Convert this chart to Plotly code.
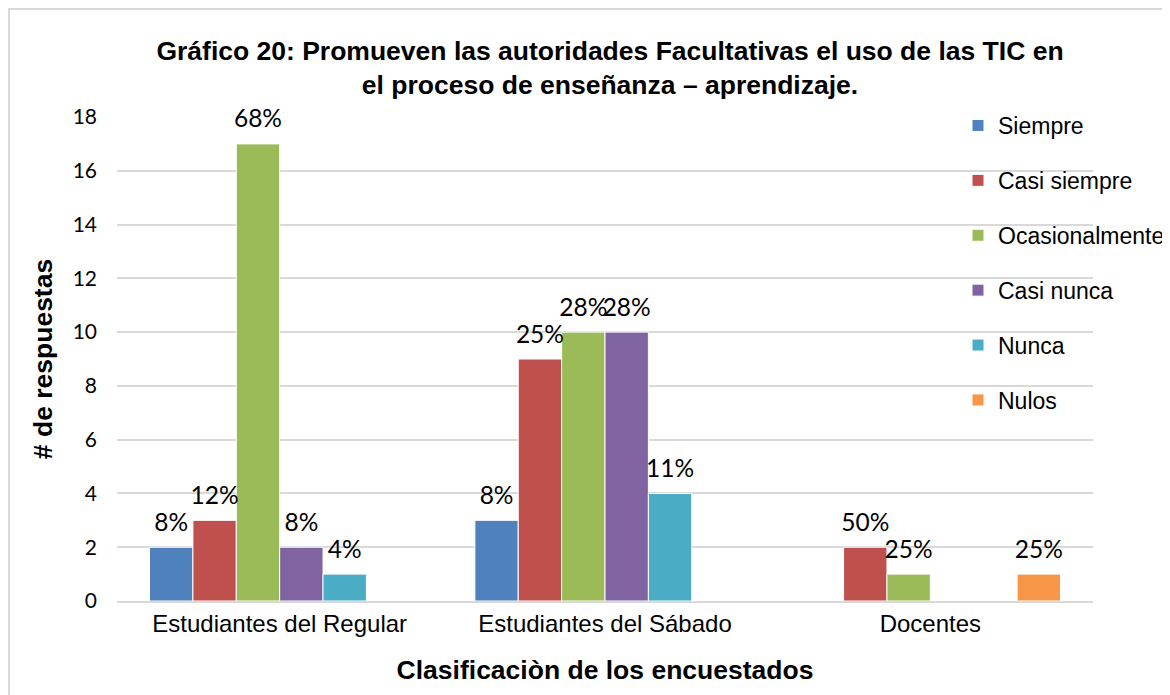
import plotly.graph_objects as go

categories = ["Estudiantes del Regular", "Estudiantes del Sábado", "Docentes"]
series_names = ["Siempre", "Casi siempre", "Ocasionalmente", "Casi nunca", "Nunca", "Nulos"]
siempre = [2, 3, 0]
casi_siempre = [3, 9, 2]
ocasionalmente = [17, 10, 1]
casi_nunca = [2, 10, 0]
nunca = [1, 4, 0]
nulos = [0, 0, 1]
lbl_siempre = ["8%", "8%", ""]
lbl_casi_siempre = ["12%", "25%", "50%"]
lbl_ocasionalmente = ["68%", "28%", "25%"]
lbl_casi_nunca = ["8%", "28%", ""]
lbl_nunca = ["4%", "11%", ""]
lbl_nulos = ["", "", "25%"]
colors = ["#4F81BD", "#C0504D", "#9BBB59", "#8064A2", "#4BACC6", "#F79646"]
y_ticks = [0, 2, 4, 6, 8, 10, 12, 14, 16, 18]

values = [siempre, casi_siempre, ocasionalmente, casi_nunca, nunca, nulos]
labels = [lbl_siempre, lbl_casi_siempre, lbl_ocasionalmente, lbl_casi_nunca, lbl_nunca, lbl_nulos]

fig = go.Figure()
for i, (name, vals, lbls, col) in enumerate(zip(series_names, values, labels, colors)):
    fig.add_trace(go.Bar(
        x=categories, y=vals, name=name, legendgroup=f"g{i}",
        offsetgroup=f"o{i}",
        marker=dict(color=col, line=dict(color="#FFFFFF", width=1)),
    ))
for i, (vals, lbls) in enumerate(zip(values, labels)):
    fig.add_trace(go.Scatter(
        x=categories, y=vals, text=lbls, mode="markers+text",
        offsetgroup=f"o{i}", showlegend=False, hoverinfo="skip",
        textposition="top center", cliponaxis=False,
        marker=dict(size=15, opacity=0),
        textfont=dict(family="Lato", size=24.5, color="#000000"),
    ))

L, T = 109, 109
W, H = 1170, 695
pw, ph = 976, 484
R, B = W - L - pw, H - T - ph

fig.update_layout(
    width=W, height=H,
    margin=dict(l=L, r=R, t=T, b=B, autoexpand=False),
    paper_bgcolor="white", plot_bgcolor="white",
    barmode="group", bargap=0.2, bargroupgap=0,
    scattermode="group", scattergap=0.2,
    title=dict(
        text="<b>Gráfico 20: Promueven las autoridades Facultativas el uso de las TIC en<br>el proceso de enseñanza – aprendizaje.</b>",
        x=602 / W, xanchor="center", y=1 - 52 / H, yanchor="top",
        font=dict(family="Liberation Sans", size=26.5, color="#000000"),
    ),
    font=dict(family="Liberation Sans", color="#000000"),
    showlegend=True,
    legend=dict(
        x=(950 - L) / pw, xanchor="left", y=1 + (T - 96) / ph, yanchor="top",
        font=dict(family="Liberation Sans", size=23, color="#000000"),
        bgcolor="rgba(0,0,0,0)", tracegroupgap=22, itemwidth=30,
        traceorder="grouped",
    ),
    xaxis=dict(
        tickfont=dict(family="Liberation Sans", size=24, color="#000000"),
        showline=True, linecolor="#D9D9D9", linewidth=2,
        title=dict(text="<b>Clasificaciòn de los encuestados</b>",
                   font=dict(family="Liberation Sans", size=26.5, color="#000000"),
                   standoff=25),
        ticks="",
    ),
    yaxis=dict(
        range=[0, 18], tickvals=y_ticks,
        tickfont=dict(family="Lato", size=21, color="#000000"),
        gridcolor="#D9D9D9", gridwidth=1.5, zeroline=False,
        ticks="", ticklen=0, ticklabelstandoff=19,
        title=dict(text="<b># de respuestas</b>",
                   font=dict(family="Liberation Sans", size=26.5, color="#000000"),
                   standoff=12),
    ),
    shapes=[dict(type="rect", xref="paper", yref="paper",
                 x0=(1 - L) / pw, x1=(W + 20 - L) / pw,
                 y0=-(H - T + 20) / ph, y1=(ph + T - 1) / ph,
                 line=dict(color="#D9D9D9", width=2), layer="below")],
)

fig.write_html("out.html")
